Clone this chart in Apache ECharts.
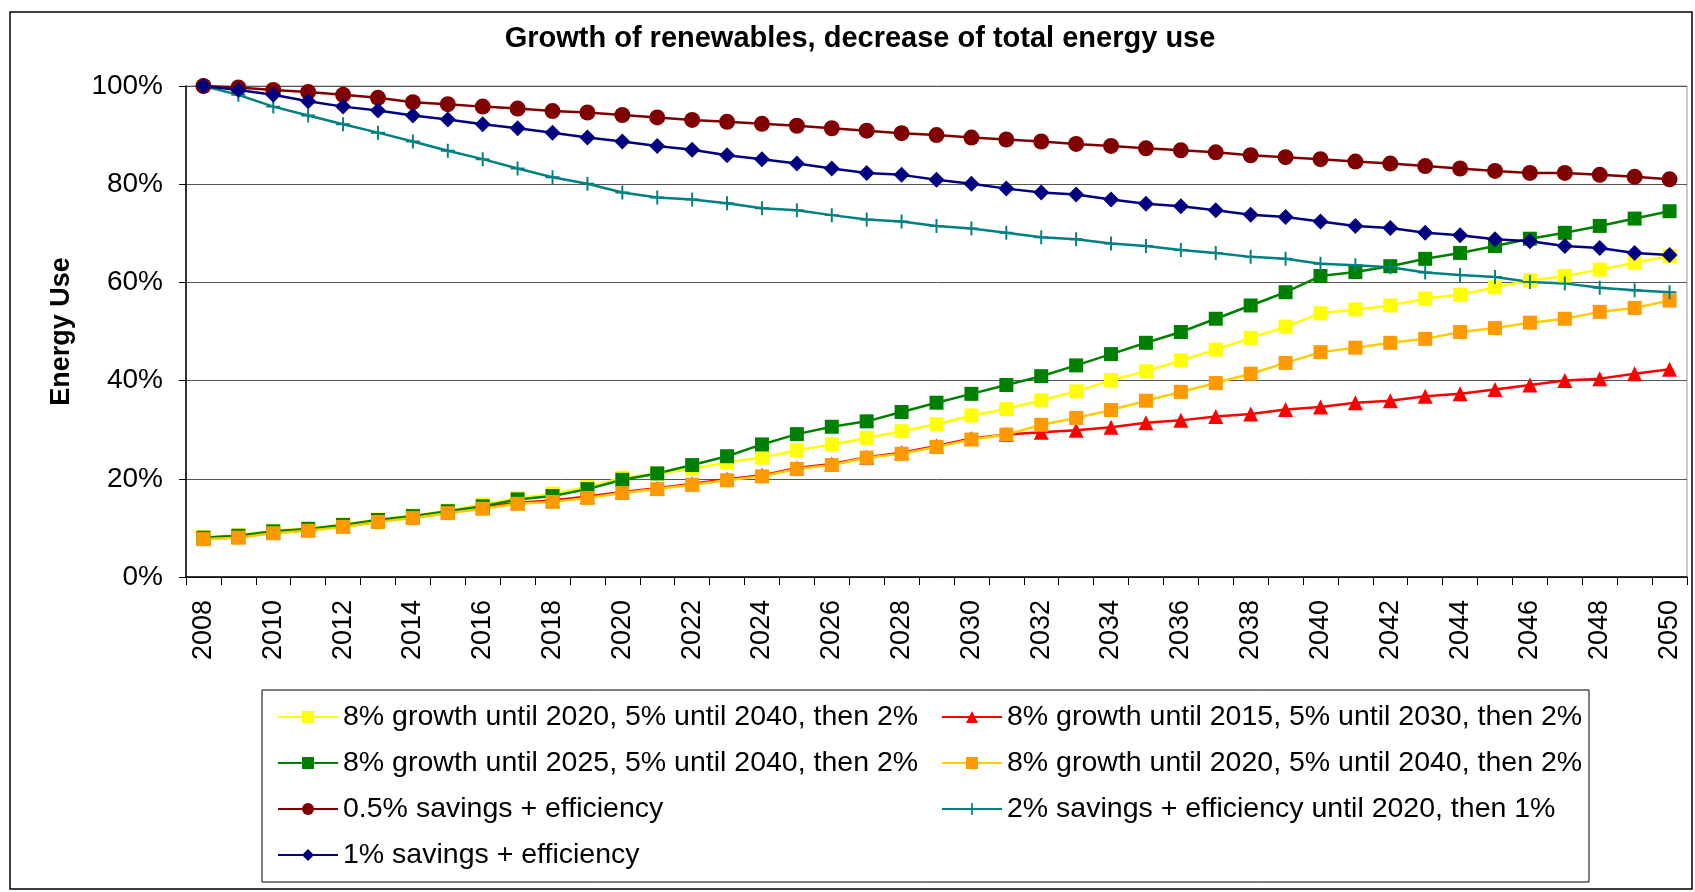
<!DOCTYPE html>
<html>
<head>
<meta charset="utf-8">
<script src="https://cdn.jsdelivr.net/npm/echarts@6/dist/echarts.min.js"></script>
<style>
  html, body { margin: 0; padding: 0; background: #fff; }
  #main { width: 1695px; height: 892px; }
</style>
</head>
<body>
<div id="main"></div>
<script>
// years on the x axis
var years = [];
for (var y = 2008; y <= 2050; y++) years.push(String(y));

// renewables scenarios (% of 2008 energy use)
var yellow8_2020 = [8.1, 8.5, 9.4, 9.9, 10.7, 11.7, 12.5, 13.5, 14.8, 16.0,
  17.0, 18.3, 20.2, 21.1, 22.0, 23.4, 24.3, 25.8, 27.0, 28.3,
  29.7, 31.1, 32.9, 34.2, 36.0, 37.8, 40.1, 41.9, 44.1, 46.3,
  48.7, 51.0, 53.7, 54.5, 55.3, 56.7, 57.5, 59.0, 60.4, 61.3,
  62.6, 64.0, 65.4];
var red8_2015 = [8.0, 8.3, 9.2, 9.7, 10.5, 11.5, 12.3, 13.3, 14.2, 15.1,
  15.6, 16.4, 17.3, 18.1, 19.0, 19.9, 20.7, 22.2, 23.0, 24.4,
  25.3, 26.7, 28.2, 29.0, 29.5, 29.9, 30.5, 31.4, 31.9, 32.7,
  33.2, 34.1, 34.6, 35.5, 35.9, 36.8, 37.3, 38.2, 39.1, 40.0,
  40.4, 41.4, 42.3];
var green8_2025 = [8.0, 8.4, 9.3, 9.8, 10.6, 11.6, 12.4, 13.4, 14.4, 15.8,
  16.5, 17.9, 19.8, 21.1, 22.8, 24.6, 27.0, 29.1, 30.6, 31.7,
  33.6, 35.5, 37.3, 39.1, 40.9, 43.1, 45.4, 47.7, 49.9, 52.6,
  55.3, 58.0, 61.3, 62.1, 63.3, 64.8, 66.0, 67.4, 68.9, 70.1,
  71.5, 73.0, 74.5];
var orange8_2020 = [7.7, 8.0, 8.9, 9.4, 10.2, 11.2, 12.0, 13.0, 13.9, 14.9,
  15.3, 16.1, 17.1, 17.9, 18.8, 19.7, 20.5, 22.0, 22.8, 24.3,
  25.1, 26.5, 28.0, 29.0, 31.0, 32.4, 34.0, 35.9, 37.7, 39.5,
  41.4, 43.6, 45.8, 46.7, 47.7, 48.5, 49.9, 50.7, 51.8, 52.6,
  54.0, 54.8, 56.3];

// total energy use scenarios
var savings05 = [100, 99.7, 99.2, 98.8, 98.2, 97.6, 96.7, 96.3, 95.8, 95.4,
  94.9, 94.6, 94.1, 93.6, 93.1, 92.7, 92.3, 91.9, 91.4, 90.9,
  90.4, 90.0, 89.5, 89.1, 88.7, 88.2, 87.8, 87.3, 86.9, 86.5,
  85.9, 85.5, 85.1, 84.6, 84.2, 83.7, 83.2, 82.7, 82.3, 82.3,
  81.9, 81.5, 81.0];
var savings2then1 = [100, 98.2, 95.8, 94.0, 92.2, 90.5, 88.7, 86.8, 85.1, 83.2,
  81.4, 80.1, 78.3, 77.3, 76.9, 76.1, 75.1, 74.7, 73.7, 72.8,
  72.4, 71.5, 71.0, 70.1, 69.2, 68.8, 67.9, 67.4, 66.6, 66.0,
  65.2, 64.8, 63.8, 63.5, 63.1, 62.0, 61.5, 61.1, 60.1, 59.8,
  58.9, 58.4, 58.0];
var savings1 = [100, 99.2, 98.2, 96.9, 95.8, 95.0, 94.0, 93.2, 92.2, 91.4,
  90.5, 89.5, 88.7, 87.8, 87.0, 85.9, 85.1, 84.2, 83.2, 82.3,
  81.9, 80.9, 80.1, 79.1, 78.3, 77.9, 76.9, 76.0, 75.5, 74.7,
  73.8, 73.3, 72.4, 71.5, 71.1, 70.1, 69.6, 68.8, 68.4, 67.4,
  67.0, 66.0, 65.6];

var yTicks = [0, 20, 40, 60, 80, 100];

var names = [
  '8% growth until 2020, 5% until 2040, then 2%',
  '8% growth until 2015, 5% until 2030, then 2%',
  '8% growth until 2025, 5% until 2040, then 2%',
  '8% growth until 2020, 5% until 2040, then 2% ',
  '0.5% savings + efficiency',
  '2% savings + efficiency until 2020, then 1%',
  '1% savings + efficiency'
];

var font = 'Liberation Sans, Arial, sans-serif';
var cross = 'path://M8.6,0H11.4V20H8.6ZM0,8.6H20V11.4H0Z';

function line(name, data, lineColor, markColor, symbol, size) {
  return {
    name: name,
    type: 'line',
    data: data,
    symbol: symbol,
    symbolSize: size,
    showAllSymbol: true,
    lineStyle: {color: lineColor, width: 2.5},
    itemStyle: {color: markColor},
    emphasis: {disabled: true}
  };
}

var legendText = {fontFamily: font, fontSize: 28.5, color: '#000', lineHeight: 30};

var myChart = echarts.init(document.getElementById('main'));
option = {
  animation: false,
  backgroundColor: '#fff',
  textStyle: {fontFamily: font, color: '#000'},
  title: {
    text: 'Growth of renewables, decrease of total energy use',
    left: 860,
    textAlign: 'center',
    top: 24,
    padding: 0,
    textStyle: {fontFamily: font, fontSize: 29, fontWeight: 'bold', color: '#000'}
  },
  graphic: [
    {type: 'rect', shape: {x: 10, y: 12, width: 1682, height: 877},
      style: {fill: null, stroke: '#000', lineWidth: 1.5}, silent: true, z: -10},
    {type: 'rect', shape: {x: 262, y: 690, width: 1327, height: 192},
      style: {fill: '#fff', stroke: '#000', lineWidth: 1}, silent: true, z: -5}
  ],
  grid: {
    left: 186, right: 8, top: 86, bottom: 315,
    show: true, borderColor: '#999', borderWidth: 1, backgroundColor: '#fff'
  },
  legend: [
    {
      data: [names[0], names[2], names[4], names[6]],
      orient: 'vertical', left: 272, top: 697,
      itemWidth: 60, itemHeight: 15, itemGap: 16,
      textStyle: legendText,
      selectedMode: false
    },
    {
      data: [names[1], names[3], names[5]],
      orient: 'vertical', left: 936, top: 697,
      itemWidth: 60, itemHeight: 15, itemGap: 16,
      textStyle: legendText,
      selectedMode: false
    }
  ],
  xAxis: {
    type: 'category',
    data: years,
    boundaryGap: true,
    axisLine: {lineStyle: {color: '#000', width: 1.5}},
    axisTick: {show: true, interval: 0, length: 8, lineStyle: {color: '#000'}},
    axisLabel: {interval: 1, rotate: 90, fontSize: 27, color: '#000', margin: 23, fontFamily: font},
    splitLine: {show: false}
  },
  yAxis: {
    type: 'value',
    min: yTicks[0],
    max: yTicks[yTicks.length - 1],
    interval: 20,
    name: 'Energy Use',
    nameLocation: 'middle',
    nameRotate: 90,
    nameGap: 111,
    nameTextStyle: {fontFamily: font, fontSize: 27, fontWeight: 'bold', color: '#000'},
    axisLine: {show: true, lineStyle: {color: '#000', width: 1.5}},
    axisTick: {show: true, length: 7, lineStyle: {color: '#000'}},
    axisLabel: {formatter: '{value}%', fontSize: 28, color: '#000', margin: 23, fontFamily: font},
    splitLine: {lineStyle: {color: '#555', width: 1}}
  },
  series: [
    line(names[0], yellow8_2020, '#ffff00', '#ffff00', 'rect', 14),
    line(names[1], red8_2015, '#ff0000', '#ff0000', 'triangle', 15),
    line(names[2], green8_2025, '#008000', '#008000', 'rect', 14),
    line(names[3], orange8_2020, '#ffcc00', '#ff9900', 'rect', 14),
    line(names[4], savings05, '#800000', '#800000', 'circle', 16),
    line(names[5], savings2then1, '#008080', '#008080', cross, 14),
    line(names[6], savings1, '#000080', '#000080', 'diamond', 16)
  ]
};
myChart.setOption(option);
</script>
</body>
</html>
